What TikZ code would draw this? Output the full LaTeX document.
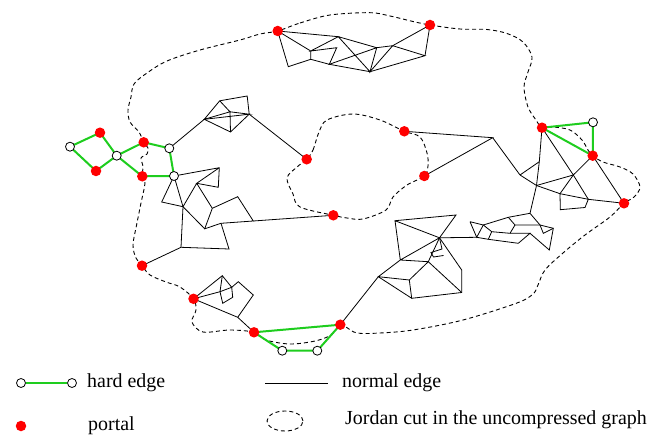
\documentclass[tikz,border=0pt]{standalone}
\usepackage{fontspec}
\usetikzlibrary{shapes.geometric}
\setmainfont{Liberation Serif}
\definecolor{hardgreen}{RGB}{30,205,30}
\definecolor{portalred}{RGB}{255,0,0}
\begin{document}
\begin{tikzpicture}[x=1bp,y=-1bp,
  normaledge/.style={line width=0.8bp,black},
  hardedge/.style={line width=2bp,hardgreen},
  jordan/.style={line width=0.9bp,dash pattern=on 4bp off 3bp},
  portal/.style={circle,fill=portalred,inner sep=0pt,minimum size=10.5bp},
  hollow/.style={circle,draw=black,line width=0.8bp,fill=white,inner sep=0pt,minimum size=9bp},
  legendtext/.style={anchor=west,inner sep=0pt,font=\fontsize{20}{23}\selectfont}]
\useasboundingbox (0,0) rectangle (652,436);

% ---------- portal and hard-vertex positions
\coordinate (pA) at (277.7,31);
\coordinate (pB) at (430,25);
\coordinate (pL1) at (100,132.7);
\coordinate (pL2) at (96,171);
\coordinate (pL3) at (143.7,142.3);
\coordinate (pL4) at (142.3,176.3);
\coordinate (pC1) at (306.7,159.3);
\coordinate (pC2) at (404.3,131.3);
\coordinate (pC3) at (424.3,176);
\coordinate (pC4) at (333.3,215.3);
\coordinate (pR1) at (542,127.7);
\coordinate (pR2) at (592.7,155.7);
\coordinate (pR3) at (624,203.3);
\coordinate (pD1) at (142,265.7);
\coordinate (pD2) at (193.5,298.8);
\coordinate (pD3) at (254,332.3);
\coordinate (pD4) at (340.3,324.7);
\coordinate (h1) at (70,146.7);
\coordinate (h2) at (116.7,155.7);
\coordinate (h3) at (169.3,148.3);
\coordinate (h4) at (174,176);
\coordinate (h5) at (593,122.3);
\coordinate (h6) at (282.3,350.7);
\coordinate (h7) at (317.3,350.7);

% ---------- top cluster
\coordinate (t1) at (288.3,66.7);
\coordinate (t2) at (310.7,59.3);
\coordinate (t3) at (310.7,51);
\coordinate (t4) at (338.3,36.7);
\coordinate (t5) at (336.7,47.7);
\coordinate (t6) at (329.3,64.3);
\coordinate (t7) at (370,71.7);
\coordinate (t8) at (376.7,47.7);
\coordinate (t9) at (392.7,45.7);
\coordinate (t10) at (425,55.7);
% ---------- upper-left cluster
\coordinate (a) at (204.3,119.3);
\coordinate (b) at (219.7,100.8);
\coordinate (c) at (247.2,96);
\coordinate (d) at (249.2,114.2);
\coordinate (e) at (230.5,132);
\coordinate (f) at (230,111.8);
% ---------- lower-left cluster
\coordinate (g) at (219.3,167.7);
\coordinate (hh) at (196.7,183.3);
\coordinate (i) at (218.3,187.3);
\coordinate (j) at (161.7,202);
\coordinate (k) at (183,206.7);
\coordinate (l) at (212.3,208.3);
\coordinate (m) at (237.7,196.7);
\coordinate (n) at (253.3,221);
\coordinate (o) at (204.7,228.8);
\coordinate (pp) at (221,223.3);
\coordinate (q) at (181,247.3);
\coordinate (r) at (229,249);
% ---------- centre
\coordinate (x1) at (492.7,137.7);
% ---------- right cluster
\coordinate (u2) at (520,175);
\coordinate (u3) at (539.3,161.7);
\coordinate (u4) at (536.5,185.5);
\coordinate (u5) at (573.3,175);
\coordinate (u6) at (560,193.7);
\coordinate (u7) at (588.3,199.3);
\coordinate (u8) at (585,207.5);
\coordinate (u9) at (560.3,209.7);
\coordinate (u10) at (530,213.3);
% ---------- middle-right cluster
\coordinate (c1) at (508.3,217.3);
\coordinate (c3) at (540,225);
\coordinate (c4) at (553.3,228.3);
\coordinate (c5) at (549.3,250);
\coordinate (c6) at (543.3,233.3);
\coordinate (c7) at (530,233.3);
\coordinate (c8) at (518.3,243.3);
\coordinate (c9) at (488.3,239.3);
\coordinate (c10) at (476.7,237.3);
\coordinate (c11) at (470,221.7);
\coordinate (c12) at (483.3,225);
\coordinate (c13) at (491.7,231.7);
\coordinate (c14) at (515,225);
\coordinate (c15) at (510,233.3);
% ---------- lower-middle cluster
\coordinate (d1) at (439.5,237.8);
\coordinate (d2) at (395,220.7);
\coordinate (d3) at (456,215);
\coordinate (d4) at (400.3,260);
\coordinate (d5) at (378.3,276.7);
\coordinate (d6) at (409.3,280);
\coordinate (d7) at (411.7,298.3);
\coordinate (d8) at (461.7,292.5);
\coordinate (d9) at (461.7,270);
\coordinate (d10) at (428.3,261.7);
\coordinate (z1) at (442,249);
\coordinate (z2) at (431,252.5);
\coordinate (z3) at (433.5,257);
\coordinate (z4) at (443.5,255.5);
% ---------- cluster near pD2
\coordinate (e1) at (222.3,275.7);
\coordinate (e2) at (220,291.7);
\coordinate (e3) at (222.7,303.3);
\coordinate (e4) at (232.7,297.3);
\coordinate (e5) at (231.7,287.3);
\coordinate (e6) at (238.3,281.7);
\coordinate (e7) at (253.3,295);
\coordinate (e8) at (237.7,317.3);

% ---------- Jordan cuts
\draw[jordan] plot[smooth cycle,tension=0.55] coordinates {
 (pA) (300,23) (330,15) (370,12.7) (390,16) (413,21.5) (pB) (460,29) (487,29.5)
 (507,33.5) (523,42) (532,57) (528,72) (524,87) (528,107) (536,120) (pR1)
 (553,127) (570,130) (582,140) (588,150) (pR2) (603,162) (620,167) (633,174)
 (640,187) (634,197) (pR3) (610,217) (585,235) (563,253) (545,270) (538,285)
 (533,294) (517,303) (463,320) (413,330) (380,333) (357,333) (346,327) (pD4)
 (331,335) (315,341) (290,344) (266,340) (pD3) (230,330) (203,332) (192,322)
 (196,310) (pD2) (180,287) (166,282) (150,275) (pD1) (136,258) (133,245)
 (137,223) (141,203) (145,183) (pL4) (143,166) (141,158) (147,154) (148,148)
 (pL3) (139,132) (130,122) (128,110) (131,97) (134,84) (147,73) (167,61)
 (200,50) (240,40) (260,34)};
\draw[jordan] plot[smooth cycle,tension=0.55] coordinates {
 (pC1) (313,150) (319,132) (327,120) (353,114) (380,120) (pC2) (420,137)
 (427,153) (428,166) (pC3) (407,185) (393,197) (386,210) (363,219) (347,218)
 (pC4) (300,207) (293,194) (287,178) (297,167)};

% ---------- normal edges
\draw[normaledge] (pA)--(t1)--(t2)--(t3)--(pA)--(t4)--(t3)--(t5)--(t6)--(t2);
\draw[normaledge] (t4)--(t7)--(t6)--(t8)--(t7)--(t9)--(t8)--(t4);
\draw[normaledge] (t9)--(t10)--(t7);
\draw[normaledge] (t10)--(pB)--(t9);

\draw[normaledge] (h3)--(a)--(b)--(c)--(d)--(e)--(a)--(f)--(b);
\draw[normaledge] (a)--(d)--(f)--(e);
\draw[normaledge] (d)--(pC1);

\draw[normaledge] (h4)--(g)--(i)--(hh)--(g);
\draw[normaledge] (hh)--(k)--(o)--(l)--(hh);
\draw[normaledge] (l)--(m)--(n)--(pp)--(o);
\draw[normaledge] (pp)--(r)--(q)--(k)--(j)--(h4)--(k);
\draw[normaledge] (q)--(pD1);
\draw[normaledge] (n)--(pC4);

\draw[normaledge] (pC2)--(x1)--(pC3);
\draw[normaledge] (x1)--(u2);

\draw[normaledge] (u2)--(u3)--(pR1)--(u5)--(pR2)--(pR3);
\draw[normaledge] (u2)--(u4)--(u3);
\draw[normaledge] (u4)--(u10);
\draw[normaledge] (u4)--(u5)--(u7)--(pR3);
\draw[normaledge] (u4)--(u6)--(u5);
\draw[normaledge] (u6)--(u7)--(u8)--(u9)--(u6);

\draw[normaledge] (c11)--(c10)--(c12)--(c11);
\draw[normaledge] (c12)--(c1)--(u10)--(c3)--(c4)--(c5)--(c7);
\draw[normaledge] (c1)--(c14)--(c3)--(c6)--(c4);
\draw[normaledge] (c14)--(c15)--(c13)--(c12);
\draw[normaledge] (c13)--(c9)--(c10);
\draw[normaledge] (c9)--(c8)--(c7)--(c15);

\draw[normaledge] (d1)--(c10);
\draw[normaledge] (d2)--(d3)--(d1)--(d2)--(d4)--(d1)--(d10)--(d4)--(d5)--(d6)--(d10)--(d8);
\draw[normaledge] (d6)--(d7)--(d5);
\draw[normaledge] (d7)--(d8)--(d9)--(d1);
\draw[normaledge] (d1)--(z1)--(z2)--(z3)--(z4);
\draw[normaledge] (d5)--(pD4);

\draw[normaledge] (pD2)--(e1)--(e5)--(e2)--(pD2)--(e8);
\draw[normaledge] (e1)--(e2)--(e3)--(e4)--(e5)--(e6)--(e7)--(e8)--(pD3);

% ---------- hard edges
\draw[hardedge] (h1)--(pL1)--(h2)--(pL2)--(h1);
\draw[hardedge] (pL3)--(h2)--(pL4)--(h4)--(h3)--(pL3);
\draw[hardedge] (pR1)--(h5)--(pR2)--(pR1);
\draw[hardedge] (pD3)--(pD4)--(h7)--(h6)--(pD3);

% ---------- vertices
\foreach \p in {pA,pB,pL1,pL2,pL3,pL4,pC1,pC2,pC3,pC4,pR1,pR2,pR3,pD1,pD2,pD3,pD4}
  \node[portal] (\p-dot) at (\p) {};
\foreach \p in {h1,h2,h3,h4,h5,h6,h7}
  \node[hollow] (\p-dot) at (\p) {};

% ---------- legend
\node[hollow] (lgA) at (21,383) {};
\node[hollow] (lgB) at (72,383) {};
\draw[hardedge] (lgA)--(lgB);
\node[legendtext] (lgT1) at (87,383) {hard edge};
\coordinate (lgN1) at (265,383);
\coordinate (lgN2) at (328,383);
\draw[normaledge] (lgN1)--(lgN2);
\node[legendtext] (lgT2) at (342,383) {normal edge};
\node[portal] (lgP) at (21,426) {};
\node[legendtext] (lgT3) at (88,426) {portal};
\node[draw,ellipse,jordan,minimum width=36bp,minimum height=20bp,inner sep=0pt] (lgJ) at (285,421) {};
\node[legendtext] (lgT4) at (345,420) {Jordan cut in the uncompressed graph};
\end{tikzpicture}
\end{document}
